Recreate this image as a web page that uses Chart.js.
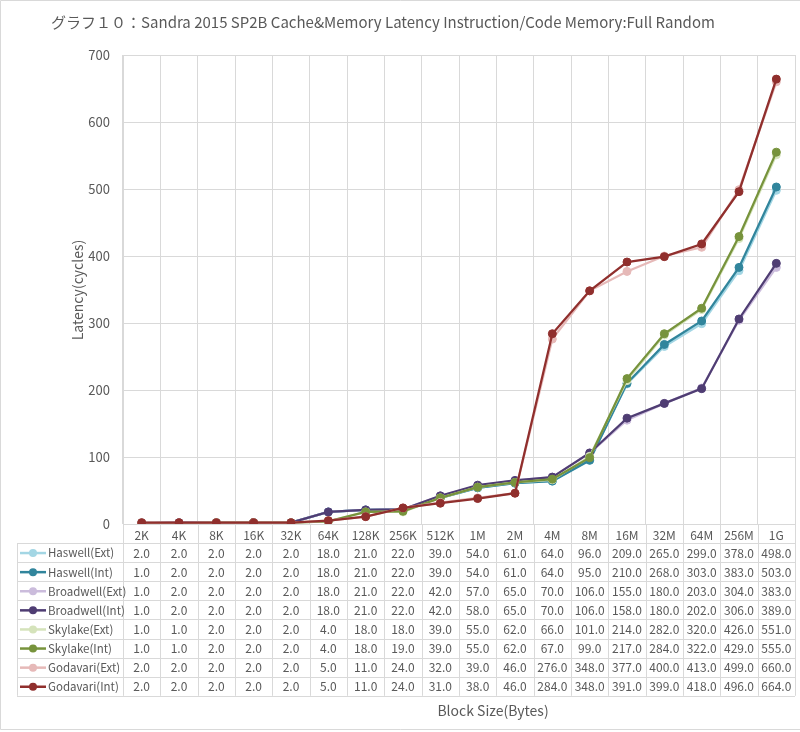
<!DOCTYPE html>
<html><head><meta charset="utf-8">
<script src="https://cdn.jsdelivr.net/npm/chart.js@4/dist/chart.umd.min.js"></script>
<style>html,body{margin:0;padding:0;background:#fff}canvas{display:block}</style>
</head><body>
<canvas id="c" width="800" height="732"></canvas>
<script>
const titleText = 'グラフ１０：Sandra 2015 SP2B Cache&Memory Latency Instruction/Code Memory:Full Random';
const xTitle = 'Block Size(Bytes)';
const yTitle = 'Latency(cycles)';
const categories = ['2K','4K','8K','16K','32K','64K','128K','256K','512K','1M','2M','4M','8M','16M','32M','64M','256M','1G'];
const yTicks = [0,100,200,300,400,500,600,700];
const seriesNames = ['Haswell(Ext)','Haswell(Int)','Broadwell(Ext)','Broadwell(Int)','Skylake(Ext)','Skylake(Int)','Godavari(Ext)','Godavari(Int)'];
const seriesColors = ['#a3d6e4','#31859c','#cbbcdc','#4f3d73','#d5e3bb','#77933c','#e6b9b8','#902f2d'];
const haswellExt   = [2,2,2,2,2,18,21,22,39,54,61,64,96,209,265,299,378,498];
const haswellInt   = [1,2,2,2,2,18,21,22,39,54,61,64,95,210,268,303,383,503];
const broadwellExt = [1,2,2,2,2,18,21,22,42,57,65,70,106,155,180,203,304,383];
const broadwellInt = [1,2,2,2,2,18,21,22,42,58,65,70,106,158,180,202,306,389];
const skylakeExt   = [1,1,2,2,2,4,18,18,39,55,62,66,101,214,282,320,426,551];
const skylakeInt   = [1,1,2,2,2,4,18,19,39,55,62,67,99,217,284,322,429,555];
const godavariExt  = [2,2,2,2,2,5,11,24,32,39,46,276,348,377,400,413,499,660];
const godavariInt  = [2,2,2,2,2,5,11,24,31,38,46,284,348,391,399,418,496,664];
const seriesValues = [haswellExt,haswellInt,broadwellExt,broadwellInt,skylakeExt,skylakeInt,godavariExt,godavariInt];

const TXT = '#595959';
const GRID = '#d9d9d9';
const FONT = "'Noto Sans CJK JP', 'Noto Sans', sans-serif";
const ROW_TOP = 543, ROW_H = 19.1, TABLE_LEFT = 17;

const tablePlugin = {
  id: 'dataTable',
  afterDraw(chart) {
    const ctx = chart.ctx;
    const xs = chart.scales.x;
    const ca = chart.chartArea;
    const n = categories.length;
    const w = (ca.right - ca.left) / n;
    const nRows = seriesNames.length;
    const bottom = ROW_TOP + nRows * ROW_H;
    ctx.save();
    ctx.strokeStyle = GRID;
    ctx.lineWidth = 1;
    for (let i = 0; i <= n; i++) {
      const x = Math.round(ca.left + i * w) + 0.5;
      ctx.beginPath(); ctx.moveTo(x, ca.bottom); ctx.lineTo(x, bottom); ctx.stroke();
    }
    ctx.beginPath(); ctx.moveTo(TABLE_LEFT + 0.5, ROW_TOP); ctx.lineTo(TABLE_LEFT + 0.5, bottom); ctx.stroke();
    for (let r = 0; r <= nRows; r++) {
      const y = Math.round(ROW_TOP + r * ROW_H) + 0.5;
      ctx.beginPath(); ctx.moveTo(TABLE_LEFT, y); ctx.lineTo(ca.right, y); ctx.stroke();
    }
    ctx.textBaseline = 'middle';
    for (let r = 0; r < nRows; r++) {
      const yc = ROW_TOP + r * ROW_H + ROW_H / 2 + 0.5;
      ctx.strokeStyle = seriesColors[r];
      ctx.lineWidth = 2.5;
      ctx.beginPath(); ctx.moveTo(20, yc); ctx.lineTo(46, yc); ctx.stroke();
      ctx.fillStyle = seriesColors[r];
      ctx.beginPath(); ctx.arc(33, yc, 4, 0, Math.PI * 2); ctx.fill();
      ctx.fillStyle = TXT;
      ctx.font = '11.5px ' + FONT;
      ctx.textAlign = 'left';
      ctx.fillText(seriesNames[r], 48, yc);
      ctx.font = '12px ' + FONT;
      ctx.textAlign = 'center';
      const vals = seriesValues[r];
      for (let i = 0; i < n; i++) {
        ctx.fillText(vals[i].toFixed(1), xs.getPixelForValue(i), yc);
      }
    }
    ctx.fillStyle = TXT;
    ctx.font = '14px ' + FONT;
    ctx.textAlign = 'center';
    ctx.fillText(xTitle, 493, 711);
    ctx.save();
    ctx.translate(78, 290);
    ctx.rotate(-Math.PI / 2);
    ctx.fillText(yTitle, 0, 0);
    ctx.restore();
    ctx.font = '15px ' + FONT;
    ctx.fillText(titleText, 383, 22);
    ctx.strokeStyle = GRID;
    ctx.lineWidth = 1;
    ctx.beginPath();
    ctx.moveTo(820, 0.5); ctx.lineTo(0.5, 0.5); ctx.lineTo(0.5, 729.5); ctx.lineTo(820, 729.5);
    ctx.stroke();
    ctx.restore();
  }
};

new Chart(document.getElementById('c'), {
  type: 'line',
  data: {
    labels: categories,
    datasets: seriesNames.map((name, i) => ({
      label: name,
      data: seriesValues[i],
      borderColor: seriesColors[i],
      backgroundColor: seriesColors[i],
      pointBackgroundColor: seriesColors[i],
      pointBorderColor: seriesColors[i],
      borderWidth: 2.25,
      pointRadius: 4,
      pointBorderWidth: 1,
      tension: 0,
      order: seriesNames.length - i
    }))
  },
  options: {
    responsive: false,
    animation: false,
    layout: { padding: { top: 55, left: 0, right: 0, bottom: 0 } },
    plugins: { legend: { display: false }, title: { display: false }, tooltip: { enabled: false } },
    scales: {
      x: {
        offset: true,
        afterFit(s) { s.height = 208; },
        grid: { offset: true, color: GRID, drawTicks: false },
        border: { color: GRID },
        ticks: { color: TXT, padding: 4, font: { family: FONT, size: 12 }, maxRotation: 0, autoSkip: false }
      },
      y: {
        min: 0, max: 700,
        afterFit(s) { s.width = 123; },
        afterBuildTicks(s) { s.ticks = yTicks.map(v => ({ value: v })); },
        grid: { color: GRID, drawTicks: false },
        border: { color: GRID },
        ticks: { color: TXT, padding: 13, font: { family: FONT, size: 13 } }
      }
    }
  },
  plugins: [tablePlugin]
});
</script>
</body></html>
